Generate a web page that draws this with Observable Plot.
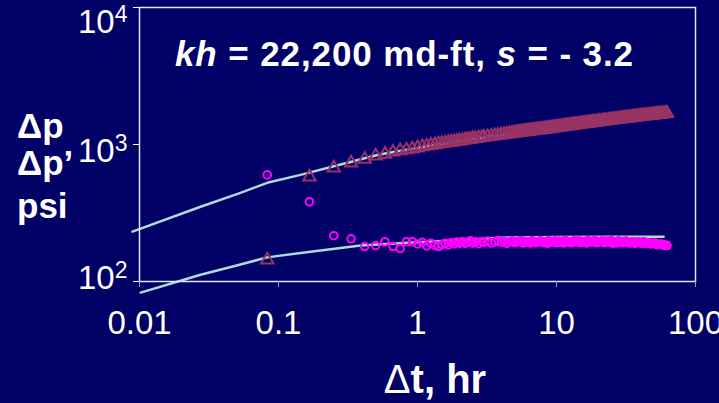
<!DOCTYPE html>
<html><head><meta charset="utf-8">
<script src="https://cdn.jsdelivr.net/npm/d3@7"></script>
<script src="https://cdn.jsdelivr.net/npm/@observablehq/plot@0.6"></script>
<style>
html,body{margin:0;padding:0;background:#000066;}
#chart{width:719px;height:403px;overflow:hidden;}
</style></head><body><div id="chart"></div>
<script>
// Test data: elapsed time (hr), pressure change and derivative (psi)
const times = [0.083,0.167,0.25,0.333,0.417,0.5,0.583,0.667,0.75,0.833,0.917,1.0,
  1.083,1.167,1.25,1.333,1.417,1.5,1.583,1.667,1.75,1.833,1.917,2.0,
  2.1,2.2,2.3,2.4,2.5,2.6,2.75,2.9,3.0,3.2,3.4,3.6,3.8,4.0,4.2,4.4,4.6,4.8,5.0,
  5.3,5.6,5.9,6.2,6.5,6.8,7.2,7.6,8.0,8.4,8.8,9.2,9.6,10,10.5,11,11.5,12,12.6,
  13.2,13.8,14.5,15.2,16,16.8,17.6,18.5,19.4,20.4,21.4,22.5,23.6,24.8,26,27.3,
  28.7,30.1,31.6,33.2,34.9,36.6,38.4,40.3,42.3,44.4,46.6,48.9,51.3,53.9,56.6,59.4,62.4];
const deltaP = [144,580,675,733,783,824,850,881,900,915,927,945,
  963,975,987,997,1008,1017,1026,1034,1042,1050,1057,1064,
  1072,1080,1087,1094,1101,1108,1117,1126,1131,1142,1152,1161,1170,1179,1187,1195,1202,1209,1216,
  1225,1234,1243,1251,1259,1266,1276,1285,1293,1301,1309,1317,1326,1334,1343,1352,1361,1369,1379,
  1388,1397,1406,1416,1426,1435,1444,1454,1463,1473,1482,1492,1501,1511,1520,1530,
  1540,1549,1559,1568,1578,1587,1597,1606,1616,1625,1634,1644,1653,1663,1672,1682,1691];
const derivP = [600,382,216,205,180,183,195,180,174,195,195,188,
  193,182,190,184,180,186,190,185,192,188,194,190,
  196,190,194,198,191,195,189,196,193,197,191,195,199,193,196,190,195,198,192,
  196,199,193,195,191,197,194,198,192,195,199,194,196,192,197,194,199,195,192,
  197,195,198,193,196,199,194,197,192,196,198,193,195,199,194,191,
  196,193,197,192,195,190,194,191,195,190,192,189,191,187,188,185,183];
// Further readings in the dense late-time part
const timesLate = [5.15,5.45,5.75,6.05,6.35,6.65,7.0,7.4,7.8,8.2,8.6,9.0,9.4,9.8,10.25,10.75,11.25,11.75,12.3,12.9,
  13.5,14.15,14.85,15.6,16.4,17.2,18.05,18.95,19.9,20.9,21.95,23.05,24.2,25.4,26.65,28.0,29.4,30.85,32.4,34.05,
  35.75,37.5,39.35,41.3,43.35,45.5,47.75,50.1,52.6,55.25,58.0,60.9];
const deltaPLate = [1220,1229,1238,1247,1255,1262,1271,1280,1289,1297,1305,1313,1321,1330,1338,1348,1356,1365,1374,1383,
  1392,1401,1411,1421,1430,1440,1449,1458,1468,1477,1487,1496,1506,1515,1525,1535,1544,1554,1563,1573,
  1582,1592,1601,1611,1620,1630,1639,1648,1658,1667,1677,1686];
const derivPLate = [194,197,191,196,193,198,192,195,197,193,190,196,194,198,193,195,191,197,194,192,
  198,195,193,196,191,197,195,199,193,196,192,197,194,190,195,198,192,196,193,191,
  195,192,194,190,193,191,188,190,186,187,184,184];
// Model curves
const modelT = [0.0089,0.0275,0.0533,0.083,0.144,0.25,0.33,0.39,0.515,0.7,1,1.5,2,3,5,7,10,15,20,30,40,50,60];
const modelP = [231,351,444,525,600,694,746,780,839,890,945,1012,1060,1128,1212,1268,1330,1410,1466,1545,1600,1645,1680];
const modelDT = [0.0102,0.0275,0.05,0.083,0.17,0.39,0.85,2.29,3.95,10,30,59];
const modelDP = [83,112,131,150,165,183,192,202,209,211,212,212];
const xTicks = [0.01,0.1,1,10,100];
const yTicks = [10000,1000,100];

const pts = times.map((t,i)=>({t, dp: deltaP[i], dd: derivP[i]}))
  .concat(timesLate.map((t,i)=>({t, dp: deltaPLate[i], dd: derivPLate[i]})))
  .sort((a,b)=>a.t-b.t);
const model1 = modelT.map((t,i)=>({t, p: modelP[i]}));
const model2 = modelDT.map((t,i)=>({t, p: modelDP[i]}));
const FONT = "'Liberation Sans', Arial, Helvetica, sans-serif";
const yLabelShift = [14.5, 6.5, -3.5]; // label offsets as laid out in the original slide

const plot = Plot.plot({
  width:719, height:403, marginLeft:139, marginRight:24, marginTop:7, marginBottom:122,
  style:{background:"#000066", color:"#ffffff", fontFamily:FONT, fontSize:"33px", overflow:"visible"},
  x:{type:"log", domain:[0.01,100]},
  y:{type:"log", domain:[100,10000]},
  marks:[
    Plot.line(model1,{x:"t", y:"p", stroke:"#aadcdc", strokeWidth:2.5}),
    Plot.line(model2,{x:"t", y:"p", stroke:"#aadcdc", strokeWidth:2.5}),
    Plot.dot(pts,{x:"t", y:"dp", symbol:"triangle", r:4.6, stroke:"#993366", strokeWidth:2}),
    Plot.dot(pts,{x:"t", y:"dd", r:3.8, stroke:"#ff00ff", strokeWidth:2}),
    Plot.frame({stroke:"#e6e6ee", strokeWidth:1.5}),
    Plot.axisX({ticks:xTicks, tickFormat:d=>String(d), tickSize:6, tickPadding:23, stroke:"#9a9ab8", fill:"#ffffff", label:null, fontSize:33}),
    Plot.axisY({ticks:yTicks, tickFormat:()=>"", tickSize:6, stroke:"#ffffff", label:null}),
    ...yTicks.map((v,i)=>Plot.axisY({ticks:[v], tickFormat:d=>"10^"+Math.round(Math.log10(d)), tickSize:0, tickPadding:12,
      stroke:"none", fill:"#ffffff", label:null, fontSize:33, dy:yLabelShift[i]}))
  ]
});
document.getElementById("chart").appendChild(plot);

const svg = d3.select(plot);
svg.selectAll("text").each(function(){
  const m = /^10\^(\d)$/.exec(this.textContent);
  if (m) {
    const s = d3.select(this);
    s.text("10");
    s.append("tspan").attr("dy", -11).attr("font-size", 23).text(m[1]);
  }
});
const g = svg.append("g").attr("fill","#ffffff").attr("font-family",FONT).attr("font-weight","bold")
  .attr("text-anchor","start").style("white-space","pre");
const title = g.append("text").attr("x",175).attr("y",66).attr("font-size",35)
  .attr("textLength",458).attr("lengthAdjust","spacing");
title.append("tspan").attr("font-style","italic").text("kh");
title.append("tspan").text(" = 22,200 md-ft, ");
title.append("tspan").attr("font-style","italic").text("s");
title.append("tspan").text(" = - 3.2");
[["Δp",138],["Δp’",175],["psi",218]].forEach(([s,y])=>{
  g.append("text").attr("x",17).attr("y",y).attr("font-size",35).text(s);
});
const xl = g.append("text").attr("x",435).attr("y",393).attr("font-size",40).attr("text-anchor","middle");
xl.append("tspan").attr("font-weight","normal").text("Δ");
xl.append("tspan").text("t, hr");
</script></body></html>
